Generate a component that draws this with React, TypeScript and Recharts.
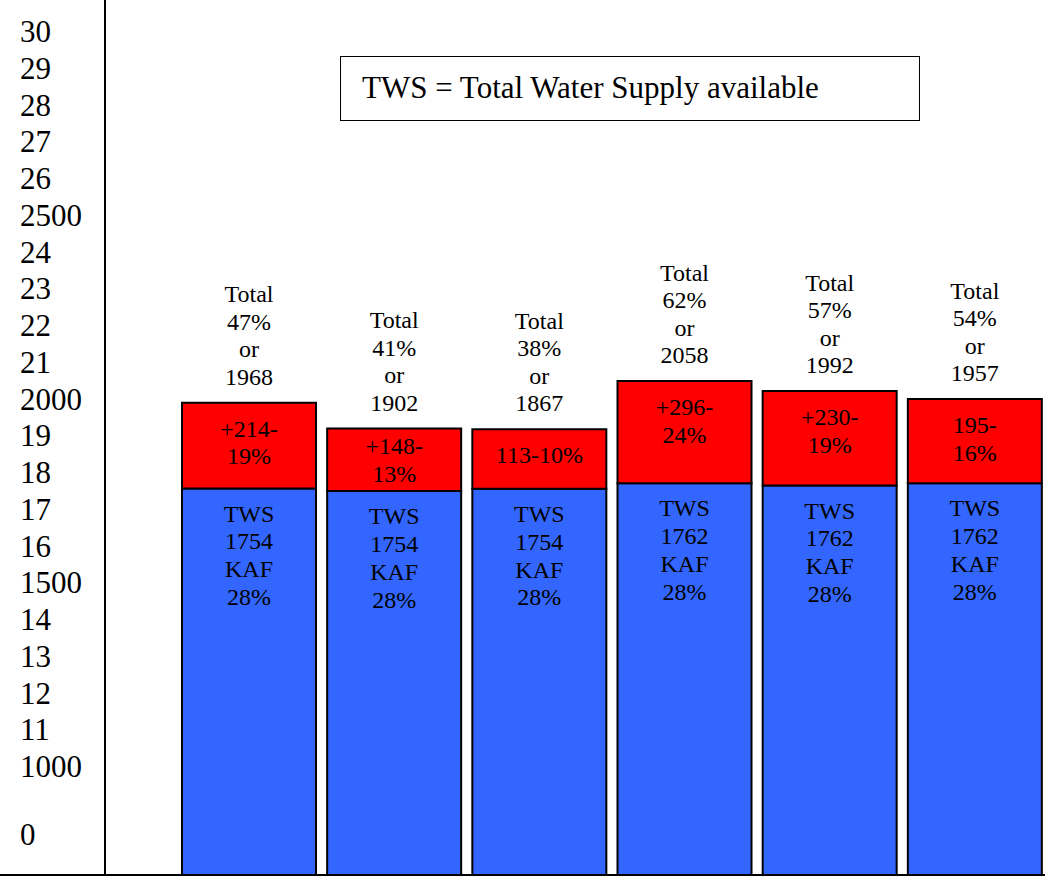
import { BarChart, Bar, XAxis, YAxis, LabelList } from "recharts";

// bar heights
const years = ["A", "B", "C", "D", "E", "F"];
const twsValues = [1757, 1750, 1756, 1771, 1765, 1771];
const extraValues = [233, 170, 162, 278, 257, 229];

// texts printed on the bars
const totalPct = ["47%", "41%", "38%", "62%", "57%", "54%"];
const totalKaf = ["1968", "1902", "1867", "2058", "1992", "1957"];
const extraLabels = [
    ["+214-", "19%"],
    ["+148-", "13%"],
    ["113-10%"],
    ["+296-", "24%"],
    ["+230-", "19%"],
    ["195-", "16%"],
];
const twsKaf = ["1754", "1754", "1754", "1762", "1762", "1762"];
const twsPct = ["28%", "28%", "28%", "28%", "28%", "28%"];

// the y axis labels as they appear
const yTickValues = [
    814, 1000, 1100, 1200, 1300, 1400, 1500, 1600, 1700, 1800, 1900, 2000,
    2100, 2200, 2300, 2400, 2500, 2600, 2700, 2800, 2900, 3000,
];
const yTickLabels = [
    "0", "1000", "11", "12", "13", "14", "1500", "16", "17", "18", "19", "2000",
    "21", "22", "23", "24", "2500", "26", "27", "28", "29", "30",
];

const FONT = "'Liberation Serif', 'Times New Roman', Times, serif";

const data = years.map((year, i) => ({
    year,
    tws: twsValues[i],
    extra: extraValues[i],
}));

const YTick = (props: any) => {
    const { y, payload } = props;
    const idx = yTickValues.indexOf(payload.value);
    return (
        <text x={20} y={y} dy="0.34em" textAnchor="start" fill="#000" style={{ fontFamily: FONT, fontSize: 31 }}>
            {yTickLabels[idx]}
        </text>
    );
};

const lines = (cx: number, firstCenter: number, step: number, texts: string[], size: number) =>
    texts.map((t, i) => (
        <text
            key={i}
            x={cx}
            y={firstCenter + i * step}
            dy="0.34em"
            textAnchor="middle"
            fill="#000"
            style={{ fontFamily: FONT, fontSize: size }}
        >
            {t}
        </text>
    ));

const TotalLabel = (props: any) => {
    const { x, y, width, index } = props;
    const texts = ["Total", totalPct[index], "or", totalKaf[index]];
    const step = 27.5;
    return <g>{lines(x + width / 2, y - 26 - step * 3, step, texts, 24)}</g>;
};

const ExtraLabel = (props: any) => {
    const { x, y, width, height, index } = props;
    const texts = extraLabels[index];
    const step = 27.5;
    // near the top of the red box, but kept inside short boxes
    const first = Math.min(y + 26, y + height / 2 - ((texts.length - 1) * step) / 2);
    return <g>{lines(x + width / 2, first, step, texts, 24)}</g>;
};

const TwsLabel = (props: any) => {
    const { x, y, width, index } = props;
    const texts = ["TWS", twsKaf[index], "KAF", twsPct[index]];
    return <g>{lines(x + width / 2, y + 25, 27.8, texts, 24)}</g>;
};

const App = () => {
    return (
        <div
            style={{
                position: "absolute",
                left: 0,
                top: 0,
                width: 1045,
                height: 878,
                overflow: "hidden",
                background: "#fff",
            }}
        >
            <BarChart
                width={1047}
                height={878}
                data={data}
                margin={{ top: 0, right: 0, bottom: 3, left: 0 }}
                barSize={134}
            >
                <XAxis
                    dataKey="year"
                    tick={false}
                    tickLine={false}
                    height={0}
                    padding={{ left: 71, right: 0 }}
                    axisLine={{ stroke: "#000", strokeWidth: 2 }}
                />
                <YAxis
                    type="number"
                    domain={[705, 3086]}
                    ticks={yTickValues}
                    interval={0}
                    allowDataOverflow
                    width={105}
                    tickLine={false}
                    tick={<YTick />}
                    axisLine={{ stroke: "#000", strokeWidth: 2 }}
                />
                <Bar
                    dataKey="tws"
                    stackId="a"
                    fill="#3366FF"
                    stroke="#000"
                    strokeWidth={2}
                    isAnimationActive={false}
                >
                    <LabelList dataKey="tws" content={<TwsLabel />} />
                </Bar>
                <Bar
                    dataKey="extra"
                    stackId="a"
                    fill="#FF0000"
                    stroke="#000"
                    strokeWidth={2}
                    isAnimationActive={false}
                >
                    <LabelList dataKey="extra" content={<ExtraLabel />} />
                    <LabelList dataKey="extra" content={<TotalLabel />} />
                </Bar>
            </BarChart>
            <div
                style={{
                    position: "absolute",
                    left: 0,
                    top: 874,
                    width: 1045,
                    height: 2,
                    background: "#000",
                }}
            />
            <div
                style={{
                    position: "absolute",
                    left: 340,
                    top: 56,
                    width: 580,
                    height: 65,
                    boxSizing: "border-box",
                    border: "1.5px solid #000",
                    fontFamily: FONT,
                    fontSize: 31,
                    lineHeight: "62px",
                    paddingLeft: 21,
                    color: "#000",
                }}
            >
                TWS = Total Water Supply available
            </div>
        </div>
    );
};

export default App;
